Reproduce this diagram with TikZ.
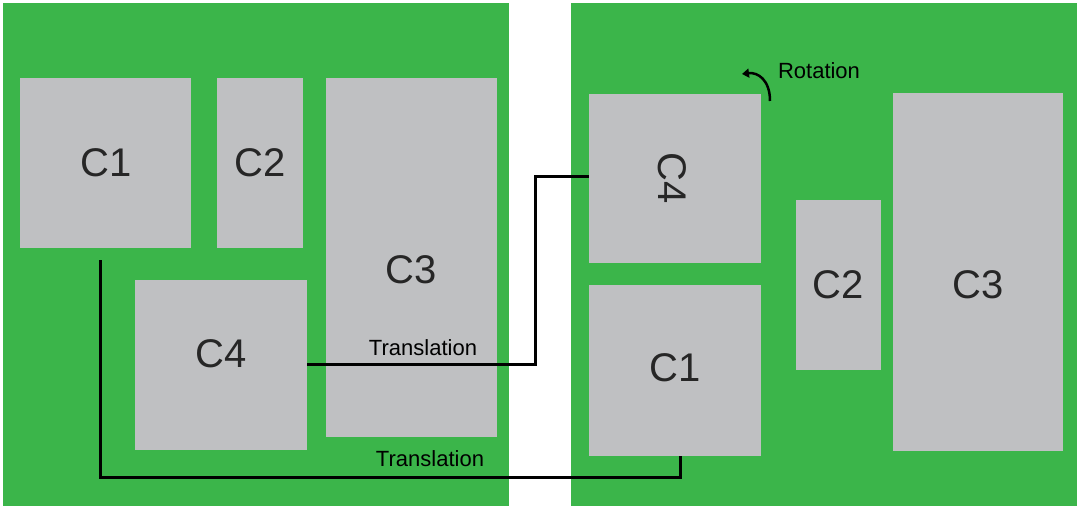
\documentclass[tikz,border=0pt]{standalone}
\usepackage{fontspec}
\setmainfont{Liberation Sans}
\usetikzlibrary{arrows.meta}
\definecolor{pgreen}{HTML}{3BB54A}
\definecolor{cgray}{HTML}{BFC0C2}
\begin{document}
\begin{tikzpicture}[x=1pt,y=-1pt,
  panel/.style={fill=pgreen,draw=none},
  comp/.style={fill=cgray,draw=none},
  lbl/.style={font=\fontsize{40}{40}\selectfont,text=black!85},
  conn/.style={line width=3pt,black},
  tlabel/.style={font=\fontsize{22}{22}\selectfont,text=black,inner sep=0pt}]
\useasboundingbox (0,0) rectangle (1080,508);
% panels
\fill[panel] (3,3) rectangle (509,506);
\fill[panel] (571,3) rectangle (1077,506);
% left components
\fill[comp] (20,78) rectangle (191,248);
\node[lbl] (lc1) at (106,163) {C1};
\fill[comp] (217,78) rectangle (303,248);
\node[lbl] (lc2) at (260,163) {C2};
\fill[comp] (326,78) rectangle (497,437);
\node[lbl] (lc3) at (411,270) {C3};
\fill[comp] (135,280) rectangle (307,450);
\node[lbl] (lc4) at (221,354) {C4};
% right components
\fill[comp] (589,94) rectangle (761,263);
\node[lbl,rotate=-90] (rc4) at (672,178) {C4};
\fill[comp] (589,285) rectangle (761,456);
\node[lbl] (rc1) at (675,368) {C1};
\fill[comp] (796,200) rectangle (881,370);
\node[lbl] (rc2) at (838,285) {C2};
\fill[comp] (893,93) rectangle (1063,451);
\node[lbl] (rc3) at (978,285) {C3};
% connectors
\coordinate (a1) at (100,260);
\coordinate (a2) at (680,456);
\draw[conn] (a1) -- (100,477) -- (680,477) -- (a2);
\coordinate (b1) at (307,364);
\coordinate (b2) at (589,177);
\draw[conn] (b1) -- (535,364) -- (535,177) -- (b2);
\node[tlabel] (t1) at (423,348) {Translation};
\node[tlabel] (t2) at (430,459) {Translation};
% rotation
\coordinate (r1) at (770,101);
\coordinate (r2) at (742,74);
\draw[line width=2.5pt,-{Triangle[length=7pt,width=9pt]}] (r1) .. controls (770,80) and (758,72) .. (r2);
\node[tlabel] (rot) at (819,71) {Rotation};
\end{tikzpicture}
\end{document}
